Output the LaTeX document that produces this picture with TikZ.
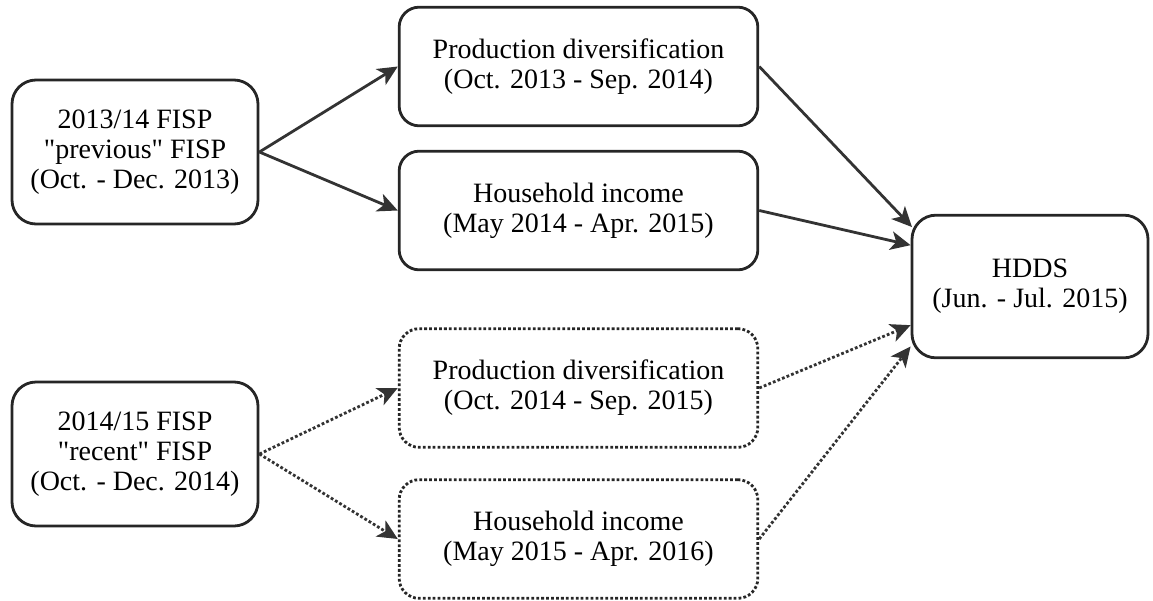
\documentclass[tikz,border=0pt]{standalone}
\usepackage{fontspec}
\setmainfont{Liberation Serif}
\usetikzlibrary{positioning, arrows.meta, calc}

\begin{document}
\begin{tikzpicture}[x=0.75pt, y=-0.75pt,
  % Node Styles
  fispnode/.style={rectangle, rounded corners=18pt, draw=black!85, line width=2.1pt, minimum width=184.5pt, minimum height=108pt, align=center, font=\fontsize{21}{22.5}\selectfont},
  pathnode/.style={rectangle, rounded corners=15pt, draw=black!85, line width=2.1pt, minimum width=269pt, minimum height=89pt, align=center, font=\fontsize{21}{22.5}\selectfont},
  dotnode/.style={pathnode, dash pattern=on 2.1pt off 1.6pt},
  hddsnode/.style={rectangle, rounded corners=18pt, draw=black!85, line width=2.1pt, minimum width=177pt, minimum height=107pt, align=center, font=\fontsize{21}{22.5}\selectfont},
  % Arrow Styles
  solidarrow/.style={-{Stealth[length=15pt, width=14pt, inset=4pt]}, line width=2.1pt, black!80},
  dotarrow/.style={solidarrow, dash pattern=on 2.1pt off 1.6pt}
]
\useasboundingbox (0,0) rectangle (1153,600);

\node[fispnode] (FISP13) at (135,152) {2013/14 FISP\\\textquotedbl previous\textquotedbl{} FISP\\(Oct. - Dec. 2013)};
\node[fispnode] (FISP14) at (135,454) {2014/15 FISP\\\textquotedbl recent\textquotedbl{} FISP\\(Oct. - Dec. 2014)};

\node[pathnode] (PD13) at (578.5,66.5) {Production diversification\\(Oct. 2013 - Sep. 2014)};
\node[pathnode] (HI14) at (578.5,210.5) {Household income\\(May 2014 - Apr. 2015)};
\node[dotnode] (PD14) at (578.5,388) {Production diversification\\(Oct. 2014 - Sep. 2015)};
\node[dotnode] (HI15) at (578.5,539) {Household income\\(May 2015 - Apr. 2016)};

\node[hddsnode] (HDDS) at (1030,286.5) {HDDS\\(Jun. - Jul. 2015)};

% previous FISP
\draw[solidarrow] (FISP13.east) -- (PD13.west);
\draw[solidarrow] (FISP13.east) -- (HI14.west);
\draw[solidarrow] (PD13.east) -- ([xshift=1pt, yshift=44.6pt]HDDS.west);
\draw[solidarrow] (HI14.east) -- ([yshift=31pt]HDDS.west);

% recent FISP
\draw[dotarrow] (FISP14.east) -- (PD14.west);
\draw[dotarrow] (FISP14.east) -- (HI15.west);
\draw[dotarrow] (PD14.east) -- ([yshift=-29pt]HDDS.west);
\draw[dotarrow] (HI15.east) -- ([yshift=-45pt]HDDS.west);

\end{tikzpicture}
\end{document}
